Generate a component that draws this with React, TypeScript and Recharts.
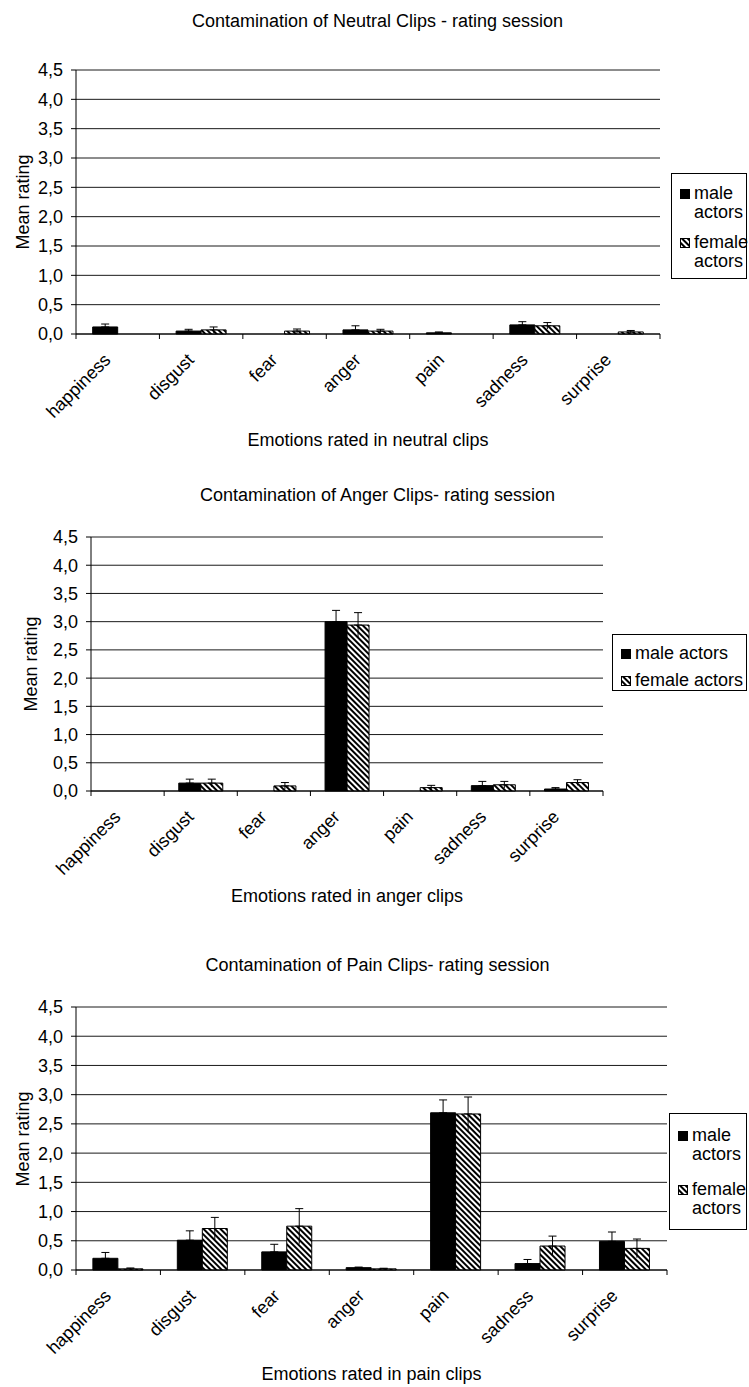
import React from 'react';
import { BarChart, Bar, XAxis, YAxis, CartesianGrid, ErrorBar, Legend } from 'recharts';

const categories = ['happiness', 'disgust', 'fear', 'anger', 'pain', 'sadness', 'surprise'];
const yTicks = [0, 0.5, 1, 1.5, 2, 2.5, 3, 3.5, 4, 4.5];
const seriesNames = ['male actors', 'female actors'];

const neutralMale = [0.12, 0.05, 0.0, 0.07, 0.02, 0.155, 0.0];
const neutralMaleErr = [0.05, 0.03, 0.0, 0.07, 0.015, 0.055, 0.0];
const neutralFemale = [0.0, 0.07, 0.05, 0.05, 0.0, 0.14, 0.035];
const neutralFemaleErr = [0.0, 0.05, 0.035, 0.03, 0.0, 0.055, 0.025];

const angerMale = [0, 0.14, 0, 3.0, 0, 0.095, 0.035];
const angerMaleErr = [0, 0.07, 0, 0.2, 0, 0.075, 0.025];
const angerFemale = [0, 0.14, 0.09, 2.94, 0.06, 0.11, 0.15];
const angerFemaleErr = [0, 0.07, 0.06, 0.22, 0.04, 0.06, 0.05];

const painMale = [0.2, 0.51, 0.31, 0.04, 2.69, 0.11, 0.49];
const painMaleErr = [0.1, 0.16, 0.13, 0.01, 0.22, 0.07, 0.16];
const painFemale = [0.02, 0.71, 0.75, 0.02, 2.67, 0.41, 0.37];
const painFemaleErr = [0.015, 0.19, 0.3, 0.01, 0.29, 0.17, 0.16];

const FONT = '"Liberation Sans", Arial, Helvetica, sans-serif';
const FS = 18;

type LegendCfg = { left: number; top: number; width: number; height: number; twoLine: boolean; padTop: number; gap: number };
type Cfg = {
  top: number; height: number;
  x0: number; x1: number; y0: number; y1: number;
  title: string; titleY: number;
  xTitle: string; xTitleY: number; yTitleX: number;
  legend: LegendCfg;
  male: number[]; maleErr: number[]; female: number[]; femaleErr: number[];
};

const charts: Cfg[] = [
  {
    top: 0, height: 462, x0: 76, x1: 660, y0: 70, y1: 334,
    title: 'Contamination of Neutral Clips - rating session', titleY: 21,
    xTitle: 'Emotions rated in neutral clips', xTitleY: 440, yTitleX: 23,
    legend: { left: 671, top: 173, width: 76, height: 106, twoLine: true, padTop: 10, gap: 11 },
    male: neutralMale, maleErr: neutralMaleErr, female: neutralFemale, femaleErr: neutralFemaleErr,
  },
  {
    top: 462, height: 463, x0: 91, x1: 603, y0: 537, y1: 791,
    title: 'Contamination of Anger Clips- rating session', titleY: 495,
    xTitle: 'Emotions rated in anger clips', xTitleY: 896, yTitleX: 31,
    legend: { left: 612, top: 634 - 462, width: 135, height: 57, twoLine: false, padTop: 9, gap: 8 },
    male: angerMale, maleErr: angerMaleErr, female: angerFemale, femaleErr: angerFemaleErr,
  },
  {
    top: 925, height: 462, x0: 76, x1: 667, y0: 1007, y1: 1270,
    title: 'Contamination of Pain Clips- rating session', titleY: 965,
    xTitle: 'Emotions rated in pain clips', xTitleY: 1374, yTitleX: 23,
    legend: { left: 669, top: 1113 - 925, width: 78, height: 117, twoLine: true, padTop: 12, gap: 16 },
    male: painMale, maleErr: painMaleErr, female: painFemale, femaleErr: painFemaleErr,
  },
];

const HatchPattern = ({ id }: { id: string }) => (
  <pattern id={id} patternUnits="userSpaceOnUse" width={4} height={4} patternTransform="rotate(-45)">
    <rect x={0} y={0} width={4} height={4} fill="#fff" />
    <rect x={0} y={0} width={2} height={4} fill="#000" />
  </pattern>
);

const Swatch = ({ hatched, id }: { hatched: boolean; id: string }) => (
  <svg width={10} height={10} style={{ display: 'block', flex: 'none', marginTop: 5 }}>
    {hatched ? (
      <>
        <defs><HatchPattern id={id} /></defs>
        <rect x={0.5} y={0.5} width={9} height={9} fill={`url(#${id})`} stroke="#000" />
      </>
    ) : (
      <rect x={0} y={0} width={10} height={10} fill="#000" />
    )}
  </svg>
);

const LegendBox = ({ cfg, idx }: { cfg: Cfg; idx: number }) => {
  const lg = cfg.legend;
  return (
    <div
      style={{
        width: lg.width, height: lg.height, boxSizing: 'border-box', border: '1px solid #000',
        background: '#fff', fontFamily: FONT, fontSize: FS, color: '#000',
        padding: `${lg.padTop}px 0 0 8px`, lineHeight: '19px',
      }}
    >
      {seriesNames.map((name, i) => {
        const parts = name.split(' ');
        return (
          <div key={name} style={{ display: 'flex', alignItems: 'flex-start', marginTop: i === 0 ? 0 : lg.gap }}>
            <Swatch hatched={i === 1} id={`lg-hatch-${idx}`} />
            <div style={{ marginLeft: 4, whiteSpace: 'nowrap' }}>
              {lg.twoLine ? (<>{parts[0]}<br />{parts[1]}</>) : name}
            </div>
          </div>
        );
      })}
    </div>
  );
};

const XTick = (props: any) => {
  const { x, y, payload, index, bw, n } = props;
  const ay = y - 5;
  const px = x - 6;
  const py = ay + 27;
  return (
    <g>
      <line x1={x - bw / 2} y1={ay} x2={x - bw / 2} y2={ay + 5} stroke="#000" />
      {index === n - 1 && <line x1={x + bw / 2} y1={ay} x2={x + bw / 2} y2={ay + 5} stroke="#000" />}
      <text x={px} y={py} transform={`rotate(-45, ${px}, ${py})`} textAnchor="end" fill="#000"
        fontSize={FS} fontFamily={FONT}>{payload.value}</text>
    </g>
  );
};

const fmt = (v: number) => v.toFixed(1).replace('.', ',');

const Chart = ({ cfg, idx }: { cfg: Cfg; idx: number }) => {
  const data = categories.map((c, i) => ({
    name: c,
    male: cfg.male[i], mUp: [0, cfg.maleErr[i]], mDown: [cfg.maleErr[i], 0],
    female: cfg.female[i], fUp: [0, cfg.femaleErr[i]], fDown: [cfg.femaleErr[i], 0],
  }));
  const bw = (cfg.x1 - cfg.x0) / categories.length;
  const pid = `hatch-${idx}`;
  const localY0 = cfg.y0 - cfg.top;
  const localY1 = cfg.y1 - cfg.top;
  return (
    <div style={{ position: 'absolute', left: 0, top: cfg.top, width: 749, height: cfg.height }}>
      <BarChart
        width={749} height={cfg.height} data={data}
        margin={{ top: localY0, right: 749 - cfg.x1, bottom: 0, left: 0 }}
        barCategoryGap="20%" barGap={0}
      >
        <defs><HatchPattern id={pid} /></defs>
        <CartesianGrid vertical={false} stroke="#1a1a1a" strokeWidth={1} />
        <XAxis
          dataKey="name" height={cfg.height - localY1} interval={0}
          axisLine={{ stroke: '#000' }} tickLine={false} tickSize={5} tickMargin={0}
          tick={(p: any) => <XTick {...p} bw={bw} n={categories.length} />}
        />
        <YAxis
          width={cfg.x0} domain={[0, 4.5]} ticks={yTicks} interval={0} tickFormatter={fmt}
          axisLine={{ stroke: '#000' }} tickLine={{ stroke: '#000' }} tickSize={5} tickMargin={8}
          tick={{ fill: '#000', fontSize: FS, fontFamily: FONT }}
        />
        <YAxis yAxisId="r" orientation="right" width={0} domain={[0, 4.5]} tick={false} tickLine={false}
          axisLine={{ stroke: '#000' }} />
        <Bar dataKey="male" name={seriesNames[0]} fill="#000" stroke="#000" strokeWidth={1} isAnimationActive={false}>
          <ErrorBar dataKey="mDown" width={0} stroke="#000" strokeWidth={1} direction="y" />
          <ErrorBar dataKey="mUp" width={4} stroke="#000" strokeWidth={1} direction="y" />
        </Bar>
        <Bar dataKey="female" name={seriesNames[1]} fill={`url(#${pid})`} stroke="#000" strokeWidth={1} isAnimationActive={false}>
          <ErrorBar dataKey="fDown" width={0} stroke="#000" strokeWidth={1} direction="y" />
          <ErrorBar dataKey="fUp" width={4} stroke="#000" strokeWidth={1} direction="y" />
        </Bar>
        <Legend
          layout="horizontal" align="center" verticalAlign="middle"
          wrapperStyle={{ left: cfg.legend.left, top: cfg.legend.top, width: cfg.legend.width, height: cfg.legend.height }}
          content={() => <LegendBox cfg={cfg} idx={idx} />}
        />
      </BarChart>
      <div style={{ position: 'absolute', left: 3, width: 749, top: cfg.titleY - cfg.top - 11, textAlign: 'center',
        fontFamily: FONT, fontSize: FS, lineHeight: '22px', color: '#000' }}>{cfg.title}</div>
      <div style={{ position: 'absolute', left: cfg.x0, width: cfg.x1 - cfg.x0, top: cfg.xTitleY - cfg.top - 11, textAlign: 'center',
        fontFamily: FONT, fontSize: FS, lineHeight: '22px', color: '#000' }}>{cfg.xTitle}</div>
      <div style={{ position: 'absolute', left: cfg.yTitleX - 100, width: 200, top: (localY0 + localY1) / 2 - 11, textAlign: 'center',
        fontFamily: FONT, fontSize: FS, lineHeight: '22px', color: '#000', transform: 'rotate(-90deg)' }}>Mean rating</div>
    </div>
  );
};

export default function App() {
  return (
    <div style={{ position: 'absolute', left: 0, top: 0, width: 749, height: 1387, background: '#fff', overflow: 'hidden' }}>
      {charts.map((c, i) => <Chart key={i} cfg={c} idx={i} />)}
    </div>
  );
}
